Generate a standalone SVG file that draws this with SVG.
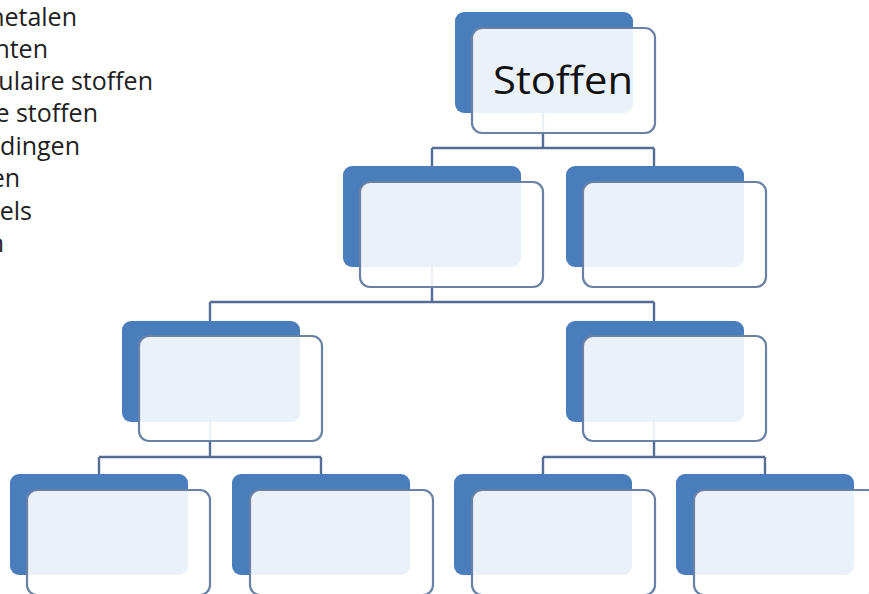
<svg xmlns="http://www.w3.org/2000/svg" width="869" height="594" viewBox="0 0 869 594">
<style>
.list{font-family:"Open Sans","Liberation Sans",sans-serif;font-size:25px;fill:#1e1e1e;text-anchor:end}
.title{font-family:"Open Sans","Liberation Sans",sans-serif;font-size:39px;fill:#111}
.back{fill:#4a7dbb}
.front{fill:#fff;fill-opacity:0.89;stroke:#6a81a6;stroke-width:2.2}
.conn{fill:none;stroke:#556d94;stroke-width:2.4}
</style>
<rect width="869" height="594" fill="#fff"/>
<g id="list">
<text class="list" x="77" y="26">netalen</text>
<text class="list" x="48" y="58">nten</text>
<text class="list" x="153" y="90">ulaire stoffen</text>
<text class="list" x="98" y="122">e stoffen</text>
<text class="list" x="80" y="155">dingen</text>
<text class="list" x="20" y="187">en</text>
<text class="list" x="32" y="220">els</text>
<text class="list" x="4" y="252">n</text>
</g>
<g id="connectors">
<path class="conn" d="M543,113 V148 M432,148 H654 M432,148 V166 M654,148 V166"/>
<path class="conn" d="M432,267 V302 M210,302 H654 M210,302 V321 M654,302 V321"/>
<path class="conn" d="M210,421 V457 M99,457 H321 M99,457 V474 M321,457 V474"/>
<path class="conn" d="M654,421 V457 M543,457 H765 M543,457 V474 M765,457 V474"/>
</g>
<g id="node-stoffen">
<rect class="back" x="455" y="12" width="178" height="101" rx="9"/>
<rect class="front" x="472" y="28" width="183" height="105" rx="10"/>
<text class="title" x="493" y="94" textLength="140" lengthAdjust="spacingAndGlyphs">Stoffen</text>
</g>
<g id="node-2a">
<rect class="back" x="343" y="166" width="178" height="101" rx="9"/>
<rect class="front" x="360" y="182" width="183" height="105" rx="10"/>
</g>
<g id="node-2b">
<rect class="back" x="566" y="166" width="178" height="101" rx="9"/>
<rect class="front" x="583" y="182" width="183" height="105" rx="10"/>
</g>
<g id="node-3a">
<rect class="back" x="122" y="321" width="178" height="101" rx="9"/>
<rect class="front" x="139" y="336" width="183" height="105" rx="10"/>
</g>
<g id="node-3b">
<rect class="back" x="566" y="321" width="178" height="101" rx="9"/>
<rect class="front" x="583" y="336" width="183" height="105" rx="10"/>
</g>
<g id="node-4a">
<rect class="back" x="10" y="474" width="178" height="101" rx="9"/>
<rect class="front" x="27" y="490" width="183" height="105" rx="10"/>
</g>
<g id="node-4b">
<rect class="back" x="232" y="474" width="178" height="101" rx="9"/>
<rect class="front" x="250" y="490" width="183" height="105" rx="10"/>
</g>
<g id="node-4c">
<rect class="back" x="454" y="474" width="178" height="101" rx="9"/>
<rect class="front" x="472" y="490" width="183" height="105" rx="10"/>
</g>
<g id="node-4d">
<rect class="back" x="676" y="474" width="178" height="101" rx="9"/>
<rect class="front" x="694" y="490" width="183" height="105" rx="10"/>
</g>
</svg>
